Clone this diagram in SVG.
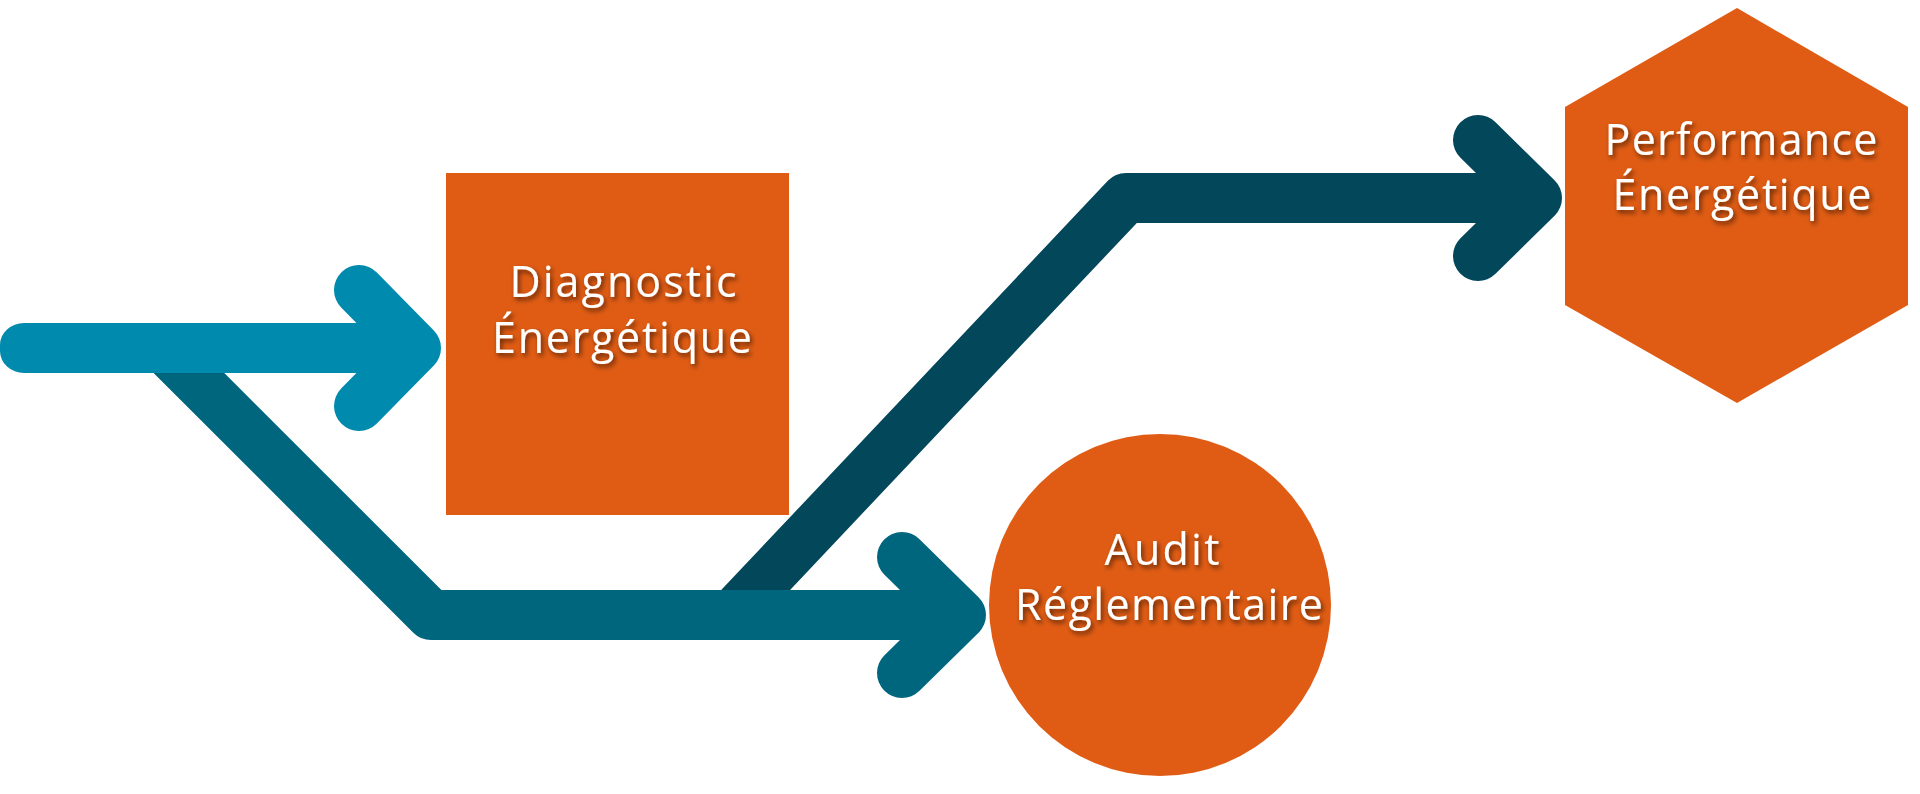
<svg xmlns="http://www.w3.org/2000/svg" width="1920" height="794" viewBox="0 0 1920 794">
  <defs>
    <filter id="shadow" x="-20%" y="-40%" width="140%" height="180%">
      <feDropShadow dx="2" dy="3" stdDeviation="2.5" flood-color="#000" flood-opacity="0.6"/>
    </filter>
  </defs>
  <style>
    .shape { fill: #E05C14; }
    .arrow { fill: none; stroke-width: 50; stroke-linejoin: round; }
    .lbl { font-family: "Open Sans", "Liberation Sans", sans-serif; font-size: 43px; font-weight: 500; fill: #ffffff; text-anchor: middle; filter: url(#shadow); }
  </style>
  <rect width="1920" height="794" fill="#ffffff"/>

  <g id="connectors">
    <g id="arrow-dark">
      <path class="arrow" d="M 732 615 L 1126 198 L 1537 198" stroke="#03475A" stroke-linecap="butt"/>
      <path class="arrow" d="M 1478 140 L 1537 198 L 1478 256" stroke="#03475A" stroke-linecap="round"/>
    </g>
    <g id="arrow-mid">
      <path class="arrow" d="M 164 348 L 431 615 L 961 615" stroke="#00667E" stroke-linecap="butt"/>
      <path class="arrow" d="M 902 557 L 961 615 L 902 673" stroke="#00667E" stroke-linecap="round"/>
    </g>
    <g id="arrow-light">
      <rect x="0" y="323" width="430" height="50" rx="24" ry="22" fill="#008AAD"/>
      <path class="arrow" d="M 359 290 L 416 348 L 359 406" stroke="#008AAD" stroke-linecap="round"/>
    </g>
  </g>

  <g id="node-diagnostic">
    <rect class="shape" x="446" y="173" width="343" height="342"/>
    <text class="lbl" x="623" y="297" textLength="227">Diagnostic</text>
    <text class="lbl" x="622" y="353" textLength="260">Énergétique</text>
  </g>

  <g id="node-audit">
    <circle class="shape" cx="1160" cy="605" r="171"/>
    <text class="lbl" x="1162" y="565" textLength="115">Audit</text>
    <text class="lbl" x="1169" y="620" textLength="308">Réglementaire</text>
  </g>

  <g id="node-performance">
    <polygon class="shape" points="1737,8 1908,107 1908,305 1737,403 1565,305 1565,107"/>
    <text class="lbl" x="1741" y="155" textLength="273">Performance</text>
    <text class="lbl" x="1742" y="210" textLength="259">Énergétique</text>
  </g>
</svg>
